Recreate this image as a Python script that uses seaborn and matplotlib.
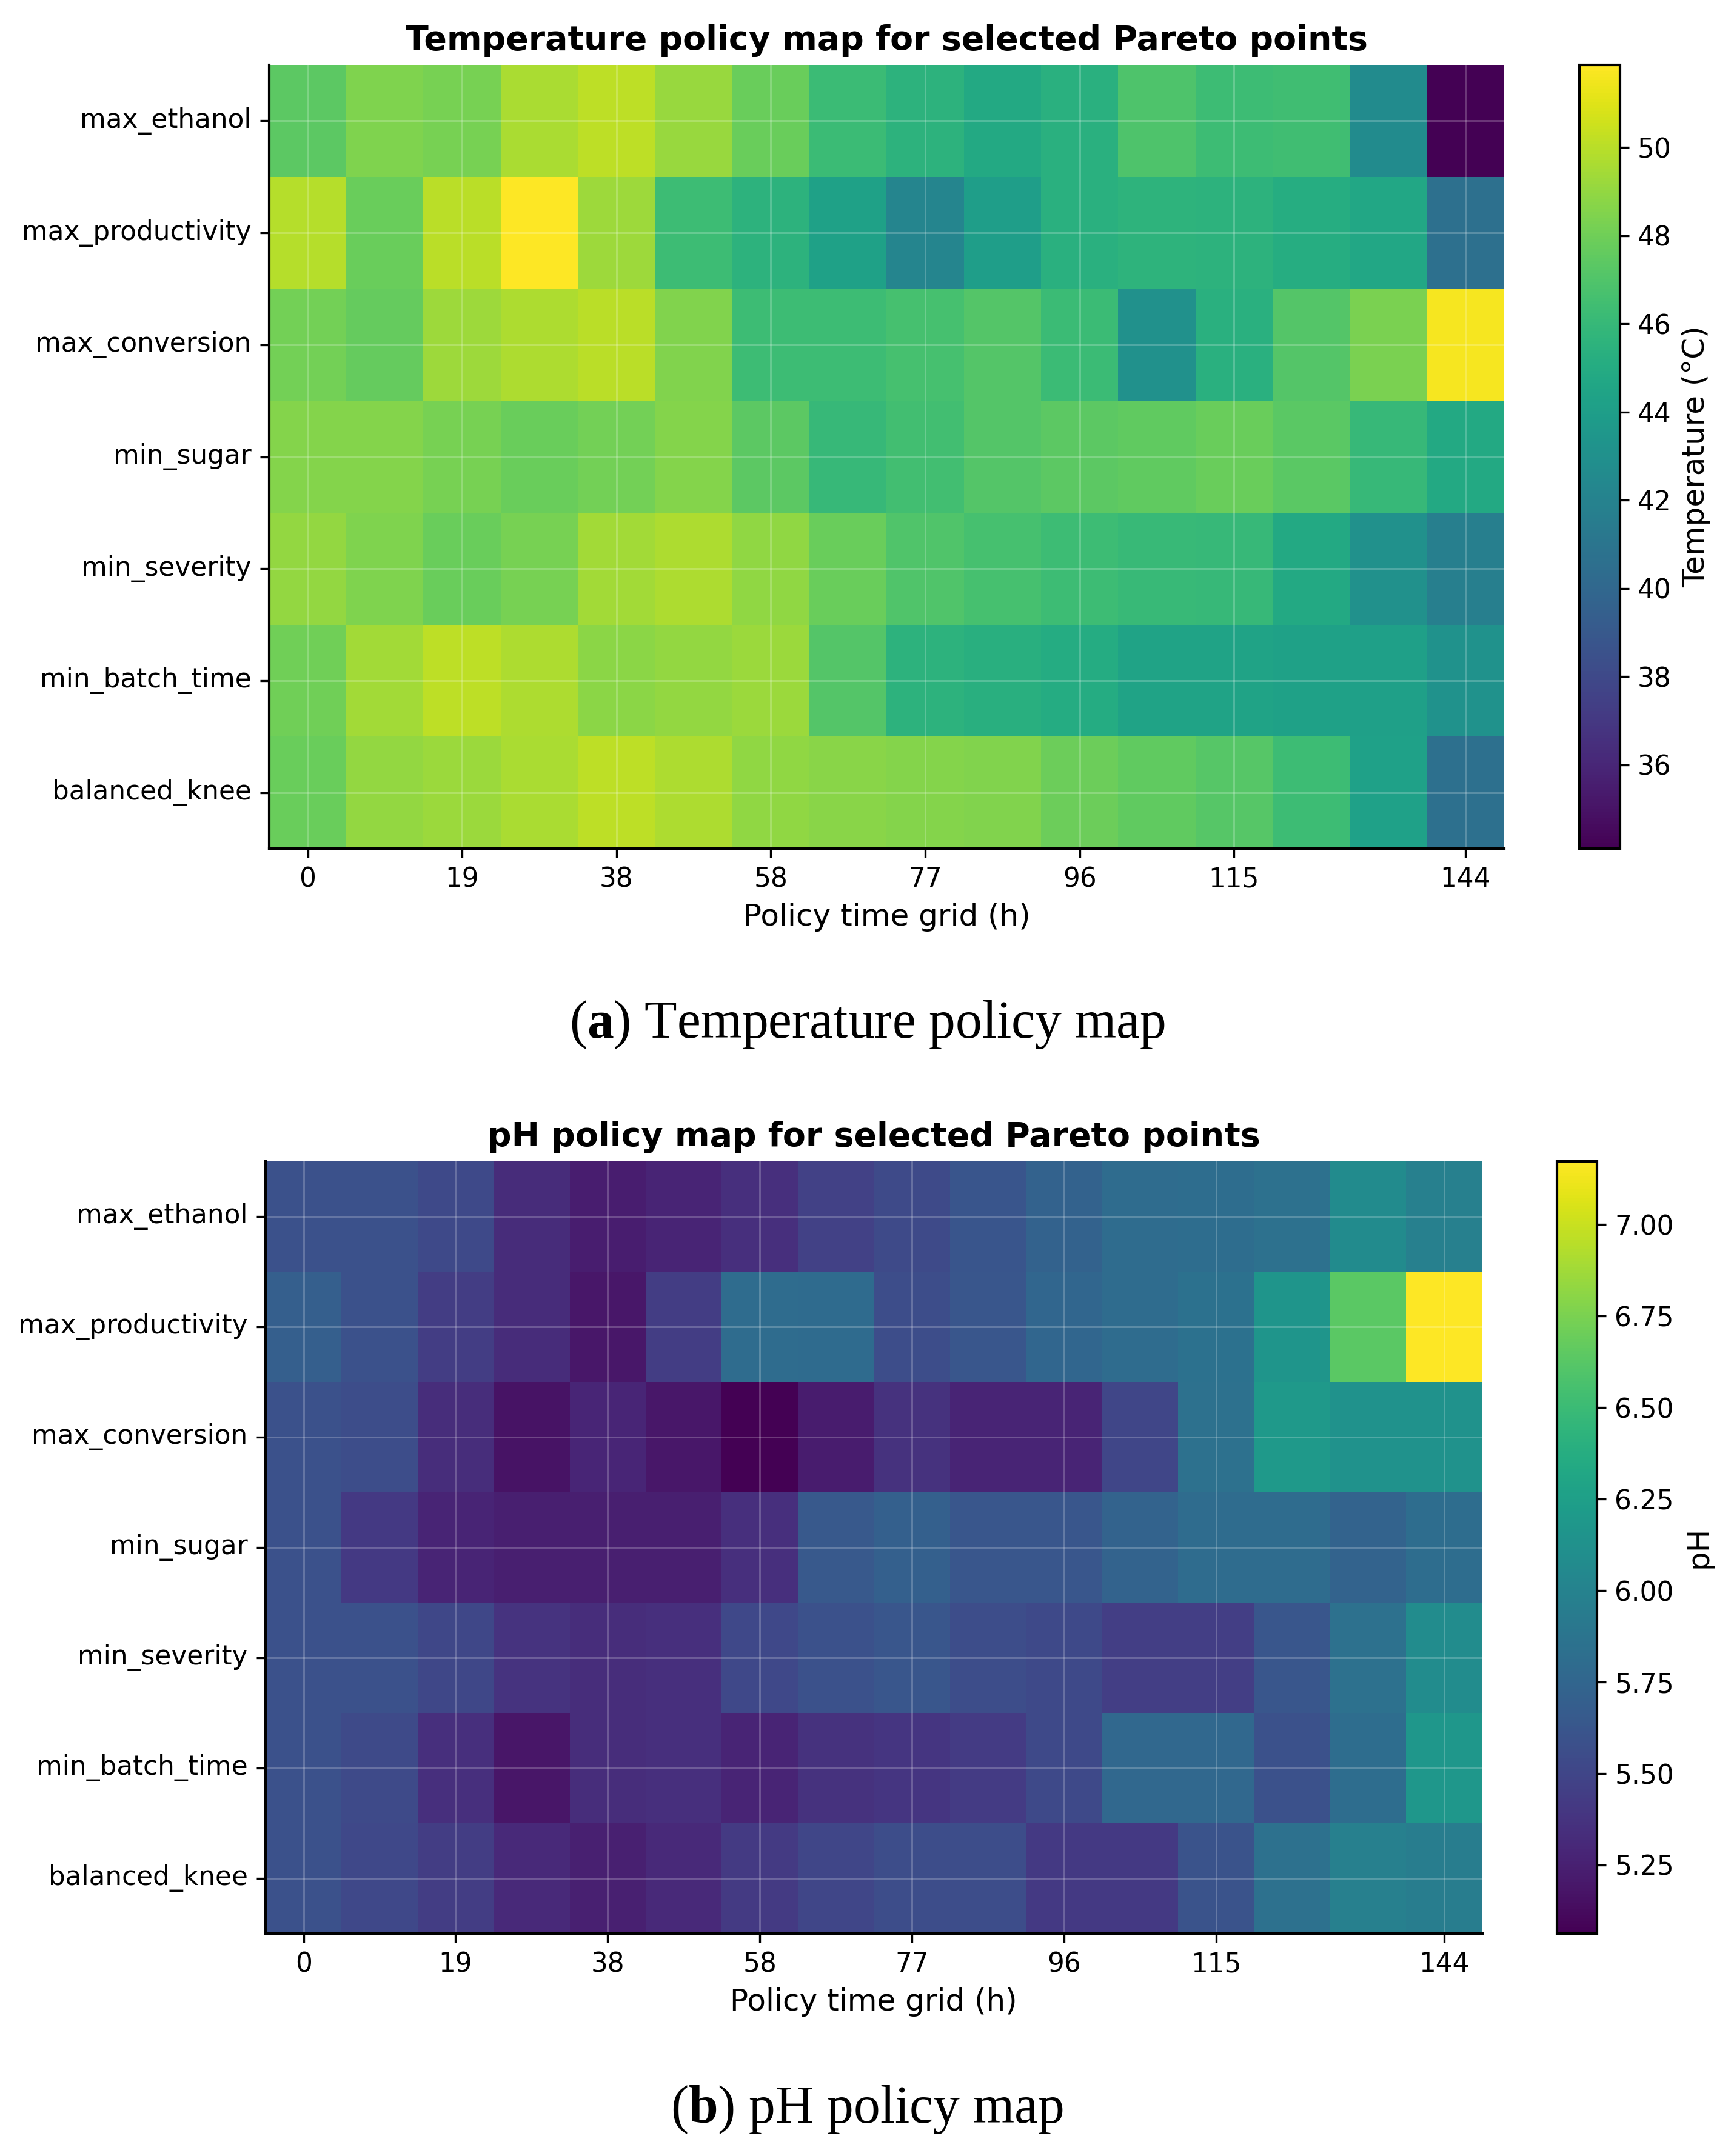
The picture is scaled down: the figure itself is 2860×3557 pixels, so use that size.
import numpy as np
import pandas as pd
import matplotlib
matplotlib.use("Agg")
import matplotlib.pyplot as plt
import seaborn as sns

# Pareto points (rows) and policy time grid (columns)
pontos = ["max_ethanol", "max_productivity", "max_conversion", "min_sugar",
          "min_severity", "min_batch_time", "balanced_knee"]
tempo_h = [0, 9.6, 19.2, 28.8, 38.4, 48.0, 57.6, 67.2, 76.8, 86.4,
           96.0, 105.6, 115.2, 124.8, 134.4, 144.0]
idx_ticks = [0, 2, 4, 6, 8, 10, 12, 15]

# Temperature policy (°C)
temp_max_ethanol = [47.4, 48.4, 48.2, 49.6, 50.1, 49.1, 47.8, 46.2, 45.5, 44.8, 45.4, 46.9, 46.3, 46.4, 42.6, 34.1]
temp_max_productivity = [49.9, 47.8, 50.0, 51.87, 49.3, 46.3, 45.5, 44.3, 42.2, 44.0, 45.4, 45.6, 45.5, 45.1, 44.7, 40.6]
temp_max_conversion = [48.1, 47.7, 49.3, 49.7, 50.0, 48.5, 46.3, 46.3, 46.6, 47.1, 46.2, 43.0, 45.4, 47.1, 48.3, 51.6]
temp_min_sugar = [48.6, 48.6, 48.2, 47.8, 48.1, 48.6, 47.4, 46.0, 46.5, 47.1, 47.4, 47.5, 47.8, 47.3, 46.0, 44.8]
temp_min_severity = [49.0, 48.4, 47.8, 48.2, 49.4, 49.7, 48.9, 47.8, 47.0, 46.6, 46.3, 46.1, 46.0, 44.8, 43.0, 41.7]
temp_min_batch_time = [48.0, 49.4, 50.1, 49.7, 48.8, 49.0, 49.2, 47.1, 45.5, 45.3, 45.0, 44.4, 44.4, 44.3, 44.1, 43.1]
temp_balanced_knee = [47.8, 49.0, 49.2, 49.6, 50.1, 49.7, 48.9, 48.7, 48.6, 48.5, 47.9, 47.5, 47.2, 46.3, 44.2, 40.6]

# pH policy
ph_max_ethanol = [5.59, 5.59, 5.53, 5.32, 5.23, 5.27, 5.35, 5.47, 5.54, 5.62, 5.72, 5.80, 5.81, 5.84, 6.07, 5.97]
ph_max_productivity = [5.69, 5.59, 5.44, 5.32, 5.19, 5.44, 5.80, 5.79, 5.55, 5.63, 5.75, 5.80, 5.85, 6.16, 6.63, 7.173]
ph_max_conversion = [5.59, 5.55, 5.33, 5.17, 5.285, 5.19, 5.063, 5.22, 5.36, 5.27, 5.27, 5.50, 5.84, 6.20, 6.13, 6.13]
ph_min_sugar = [5.59, 5.41, 5.27, 5.24, 5.24, 5.24, 5.35, 5.64, 5.70, 5.63, 5.63, 5.73, 5.80, 5.80, 5.73, 5.81]
ph_min_severity = [5.59, 5.59, 5.51, 5.37, 5.33, 5.35, 5.52, 5.59, 5.63, 5.55, 5.53, 5.45, 5.45, 5.63, 5.84, 6.08]
ph_min_batch_time = [5.59, 5.54, 5.35, 5.18, 5.33, 5.35, 5.27, 5.36, 5.39, 5.43, 5.53, 5.77, 5.77, 5.59, 5.81, 6.18]
ph_balanced_knee = [5.59, 5.52, 5.44, 5.31, 5.25, 5.31, 5.42, 5.50, 5.55, 5.55, 5.41, 5.41, 5.60, 5.84, 5.97, 5.95]

temp_df = pd.DataFrame([temp_max_ethanol, temp_max_productivity, temp_max_conversion,
                        temp_min_sugar, temp_min_severity, temp_min_batch_time,
                        temp_balanced_knee], index=pontos, columns=tempo_h)
ph_df = pd.DataFrame([ph_max_ethanol, ph_max_productivity, ph_max_conversion,
                      ph_min_sugar, ph_min_severity, ph_min_batch_time,
                      ph_balanced_knee], index=pontos, columns=tempo_h)

plt.rcParams["mathtext.fontset"] = "custom"
plt.rcParams["mathtext.rm"] = "Liberation Serif"
plt.rcParams["mathtext.bf"] = "Liberation Serif:bold"

fig = plt.figure(figsize=(2860 / 300, 3557 / 300), dpi=300)


def desenhar_mapa(df, pos_ax, pos_cb, titulo, rotulo_cb):
    ax = fig.add_axes(pos_ax)
    cax = fig.add_axes(pos_cb)
    sns.heatmap(df, cmap="viridis", ax=ax, cbar_ax=cax,
                cbar_kws={"label": rotulo_cb})
    ax.set_xticks(np.array(idx_ticks) + 0.5)
    ax.set_xticklabels([f"{tempo_h[i]:.0f}" for i in idx_ticks], rotation=0, fontsize=10.5)
    ax.set_yticks(np.arange(len(pontos)) + 0.5)
    ax.set_yticklabels(pontos, rotation=0, fontsize=10.5)
    ax.tick_params(length=3.5, width=0.8)
    for lado in ["left", "bottom"]:
        ax.spines[lado].set_visible(True)
        ax.spines[lado].set_linewidth(1.0)
    ax.grid(True, color="white", alpha=0.22, linewidth=0.7)
    ax.set_title(titulo, fontsize=13.3, fontweight="bold")
    ax.set_xlabel("Policy time grid (h)", fontsize=12)
    ax.set_ylabel("")
    cax.tick_params(labelsize=10.5, length=3.5, width=0.8)
    cax.yaxis.label.set_size(12)
    cb = ax.collections[0].colorbar
    cb.outline.set_visible(True)
    cb.outline.set_linewidth(1.0)
    cb.outline.set_edgecolor("black")
    return ax


desenhar_mapa(temp_df, [0.1552, 0.6064, 0.7122, 0.3635], [0.9108, 0.6064, 0.0234, 0.3635],
              "Temperature policy map for selected Pareto points", "Temperature (°C)")
desenhar_mapa(ph_df, [0.1531, 0.1032, 0.7017, 0.3582], [0.8979, 0.1032, 0.0231, 0.3582],
              "pH policy map for selected Pareto points", "pH")

fig.text(0.5, 0.5187, r"($\mathbf{a}$) Temperature policy map", ha="center", va="baseline",
         fontsize=21, family="Liberation Serif")
fig.text(0.5, 0.0155, r"($\mathbf{b}$) pH policy map", ha="center", va="baseline",
         fontsize=21, family="Liberation Serif")

fig.savefig("out.png", dpi=300, facecolor="white")
